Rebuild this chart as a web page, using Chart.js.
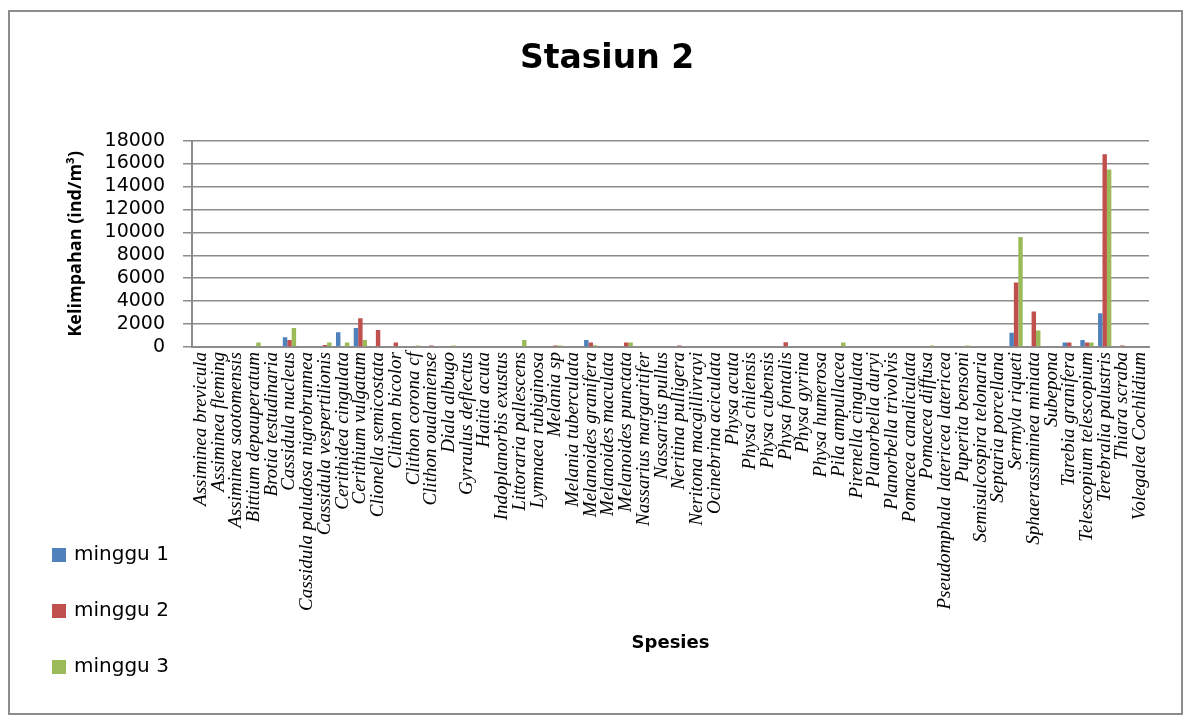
<!DOCTYPE html>
<html>
<head>
<meta charset="utf-8">
<script src="https://cdn.jsdelivr.net/npm/chart.js@4.4.0/dist/chart.umd.min.js"></script>
<style>
    html, body { margin: 0; padding: 0; background: #fff; }
    #wrap { position: relative; width: 1190px; height: 722px; }
    #frame { position: absolute; left: 8px; top: 10px; width: 1175px; height: 705px; border: 2px solid #8c8c8c; box-sizing: border-box; }
    #stasiunChart { position: absolute; left: 0; top: 0; }
</style>
</head>
<body>
<div id="wrap">
    <div id="frame"></div>
    <canvas id="stasiunChart" width="1190" height="722"></canvas>
</div>
<script>
const species = [
    'Assiminea brevicula', 'Assiminea fleming', 'Assiminea saotomensis', 'Bittium depauperatum',
    'Brotia testudinaria', 'Cassidula nucleus', 'Cassidula paludosa nigrobrunnea', 'Cassidula vespertilionis',
    'Cerithidea cingulata', 'Cerithium vulgatum', 'Clionella semicostata', 'Clithon bicolor',
    'Clithon corona cf', 'Clithon oualaniense', 'Diala albugo', 'Gyraulus deflectus',
    'Haitia acuta', 'Indoplanorbis exustus', 'Littoraria pallescens', 'Lymnaea rubiginosa',
    'Melania sp', 'Melania tuberculata', 'Melanoides granifera', 'Melanoides maculata',
    'Melanoides punctata', 'Nassarius margaritifer', 'Nassarius pullus', 'Neritina pulligera',
    'Neritona macgillivrayi', 'Ocinebrina aciculata', 'Physa acuta', 'Physa chilensis',
    'Physa cubensis', 'Physa fontalis', 'Physa gyrina', 'Physa humerosa',
    'Pila ampullacea', 'Pirenella cingulata', 'Planorbella duryi', 'Planorbella trivolvis',
    'Pomacea canaliculata', 'Pomacea diffusa', 'Pseudomphala latericea latericea', 'Puperita bensoni',
    'Semisulcospira telonaria', 'Septaria porcellana', 'Sermyla riqueti', 'Sphaerassiminea miniata',
    'Subepona', 'Tarebia granifera', 'Telescopium telescopium', 'Terebralia palustris',
    'Thiara scraba', 'Volegalea Cochlidium'
];

const minggu1 = [
    0, 0, 0, 0, 0, 850, 0, 0, 1280, 1660, 0, 0, 0, 0, 0, 0, 0, 0,
    0, 0, 0, 0, 600, 0, 0, 0, 0, 0, 0, 0, 0, 0, 0, 0, 0, 0,
    0, 0, 0, 0, 0, 0, 0, 0, 0, 0, 1250, 0, 0, 400, 600, 2950, 0, 0
];
const minggu2 = [
    0, 0, 0, 0, 0, 600, 0, 170, 0, 2510, 1490, 400, 0, 120, 0, 0, 0, 0,
    0, 0, 120, 0, 400, 0, 400, 0, 0, 120, 0, 0, 0, 0, 0, 410, 0, 0,
    0, 0, 0, 0, 0, 0, 0, 0, 0, 0, 5630, 3090, 0, 400, 400, 16800, 120, 0
];
const minggu3 = [
    0, 0, 0, 400, 0, 1660, 0, 400, 400, 610, 0, 0, 120, 0, 120, 0, 0, 0,
    600, 0, 120, 0, 150, 0, 400, 0, 0, 0, 0, 0, 0, 0, 0, 0, 0, 0,
    400, 0, 0, 0, 0, 120, 0, 120, 0, 0, 9600, 1430, 0, 0, 400, 15490, 0, 0
];

const seriesLabels = ['minggu 1', 'minggu 2', 'minggu 3'];
const seriesColors = ['#4f81bd', '#c0504d', '#9bbb59'];

const gridColor = '#8c8c8c';

// legend sits under the y axis, like the Excel original
const sideLegend = {
    id: 'sideLegend',
    afterDraw(chart) {
        const ctx = chart.ctx;
        ctx.save();
        ctx.font = '20px "DejaVu Sans"';
        ctx.textBaseline = 'middle';
        chart.data.datasets.forEach((ds, i) => {
            const y = 555 + i * 56;
            ctx.fillStyle = ds.backgroundColor;
            ctx.fillRect(52, y - 7, 14, 14);
            ctx.fillStyle = '#000';
            ctx.fillText(ds.label, 74, y);
        });
        ctx.restore();
    }
};

const ctx = document.getElementById('stasiunChart').getContext('2d');
new Chart(ctx, {
    type: 'bar',
    data: {
        labels: species,
        datasets: [minggu1, minggu2, minggu3].map((values, i) => ({
            label: seriesLabels[i],
            data: values,
            backgroundColor: seriesColors[i],
            categoryPercentage: 0.75,
            barPercentage: 1.0
        }))
    },
    options: {
        responsive: false,
        animation: false,
        layout: {
            padding: { left: 65, right: 41, top: 40, bottom: 64 }
        },
        plugins: {
            legend: { display: false },
            tooltip: { enabled: false },
            title: {
                display: true,
                text: 'Stasiun 2',
                color: '#000',
                font: { family: '"DejaVu Sans"', weight: 'bold', size: 33 },
                padding: { top: 0, bottom: 61 }
            }
        },
        scales: {
            x: {
                grid: { display: false, drawTicks: false },
                border: { display: true, color: gridColor, width: 2 },
                ticks: {
                    autoSkip: false,
                    minRotation: 90,
                    maxRotation: 90,
                    padding: 5,
                    color: '#000',
                    font: { family: '"Liberation Serif"', style: 'italic', size: 19 }
                },
                title: {
                    display: true,
                    text: 'Spesies',
                    color: '#000',
                    font: { family: '"DejaVu Sans"', weight: 'bold', size: 18 },
                    padding: { top: 4, bottom: 4 }
                },
                afterFit(scale) { scale.height = 311; }
            },
            y: {
                min: 0,
                max: 18000,
                grid: { color: gridColor, lineWidth: 1.5, tickLength: 9 },
                border: { display: true, color: gridColor, width: 2 },
                ticks: {
                    stepSize: 2000,
                    autoSkip: false,
                    padding: 18,
                    color: '#000',
                    font: { family: '"DejaVu Sans"', size: 19 },
                    callback: value => String(value)
                },
                title: {
                    display: true,
                    text: 'Kelimpahan (ind/m³)',
                    color: '#000',
                    font: { family: '"Open Sans"', weight: 'bold', size: 18 },
                    padding: { top: 0, bottom: 0 }
                },
                afterFit(scale) { scale.width = 127; }
            }
        }
    },
    plugins: [sideLegend]
});
</script>
</body>
</html>
